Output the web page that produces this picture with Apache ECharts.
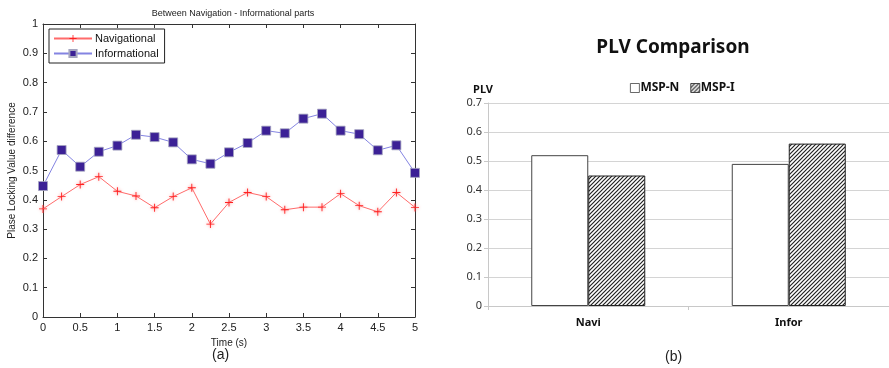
<!DOCTYPE html>
<html>
<head>
<meta charset="utf-8">
<script src="https://cdn.jsdelivr.net/npm/echarts@6/dist/echarts.min.js"></script>
<style>
  html, body { margin: 0; padding: 0; background: #fff; }
  #chart { width: 889px; height: 368px; }
</style>
</head>
<body>
<div id="chart"></div>
<script>
// (a) PLV difference over time, sampled every 0.25 s
const timeSec = [0, 0.25, 0.5, 0.75, 1, 1.25, 1.5, 1.75, 2, 2.25, 2.5, 2.75, 3, 3.25, 3.5, 3.75, 4, 4.25, 4.5, 4.75, 5];
const navigational = [0.369, 0.411, 0.452, 0.479, 0.429, 0.413, 0.373, 0.411, 0.441, 0.317, 0.391, 0.425, 0.411, 0.366, 0.375, 0.375, 0.421, 0.380, 0.359, 0.425, 0.374];
const informational = [0.447, 0.570, 0.513, 0.564, 0.585, 0.622, 0.614, 0.596, 0.538, 0.523, 0.562, 0.594, 0.636, 0.627, 0.677, 0.694, 0.636, 0.624, 0.569, 0.586, 0.492];

// (b) mean PLV per part
const parts = ['Navi', 'Infor'];
const mspN = [0.52, 0.49];
const mspI = [0.45, 0.56];

// diagonal hatch fill for the MSP-I bars
function hatch() {
  const c = document.createElement('canvas');
  c.width = 4; c.height = 4;
  const g = c.getContext('2d');
  g.fillStyle = '#fff';
  g.fillRect(0, 0, 4, 4);
  g.strokeStyle = '#222';
  g.lineWidth = 1.2;
  g.beginPath();
  g.moveTo(0, 4); g.lineTo(4, 0);
  g.moveTo(-1, 1); g.lineTo(1, -1);
  g.moveTo(3, 5); g.lineTo(5, 3);
  g.stroke();
  return { image: c, repeat: 'repeat' };
}

const matFont = 'Liberation Sans, Arial, sans-serif';
const xlFont = 'Noto Sans, Open Sans, sans-serif';
const plus = 'path://M4,0H5V9H4Z M0,4H9V5H0Z';

// box axes of the time plot: black line, short inward ticks
function boxAxis(extra) {
  return Object.assign({
    axisLine: { show: true, onZero: false, lineStyle: { color: '#333' } },
    axisTick: { show: true, inside: true, length: 4, lineStyle: { color: '#333' } },
    splitLine: { show: false }
  }, extra);
}

const chart = echarts.init(document.getElementById('chart'), null, { renderer: 'canvas' });

chart.setOption({
  animation: false,
  backgroundColor: '#fff',
  title: [
    {
      text: 'Between Navigation - Informational parts',
      left: 228, top: 4, textAlign: 'center',
      textStyle: { fontFamily: matFont, fontSize: 9, fontWeight: 'normal', color: '#222' }
    },
    {
      text: 'PLV Comparison',
      left: 668, top: 33, textAlign: 'center',
      textStyle: { fontFamily: xlFont, fontSize: 19, fontWeight: 'bold', color: '#111' }
    }
  ],
  legend: [
    {
      data: ['Navigational', 'Informational'],
      orient: 'vertical',
      left: 49, top: 29,
      padding: [4, 6, 4, 4],
      itemGap: 4,
      itemWidth: 38, itemHeight: 9,
      borderColor: '#222', borderWidth: 1,
      backgroundColor: '#fff',
      textStyle: { fontFamily: matFont, fontSize: 11, color: '#111', padding: [0, 0, 0, -2] }
    },
    {
      data: ['MSP-N', 'MSP-I'],
      left: 625, top: 77,
      itemGap: 11,
      icon: 'rect',
      itemWidth: 9, itemHeight: 9,
      itemStyle: { borderWidth: 0.8 },
      textStyle: { fontFamily: xlFont, fontSize: 12, fontWeight: 'bold', color: '#111', padding: [0, 0, 0, -4] }
    }
  ],
  grid: [
    { left: 43, top: 24, width: 372, height: 293, show: false },
    { left: 488, top: 103, width: 401, height: 203, show: false }
  ],
  xAxis: [
    boxAxis({
      gridIndex: 0, type: 'value', position: 'bottom', min: 0, max: 5, interval: 0.5,
      name: 'Time (s)', nameLocation: 'middle', nameGap: 19,
      nameTextStyle: { fontFamily: matFont, fontSize: 10, color: '#222' },
      axisLabel: { fontFamily: matFont, fontSize: 11, color: '#222', margin: 5 }
    }),
    boxAxis({
      gridIndex: 0, type: 'value', position: 'top', min: 0, max: 5, interval: 0.5,
      axisLabel: { show: false }
    }),
    {
      gridIndex: 1, type: 'category', data: parts,
      axisLine: { lineStyle: { color: '#c8c8c8' } },
      axisTick: { show: true, length: 4, lineStyle: { color: '#c8c8c8' } },
      axisLabel: { fontFamily: xlFont, fontSize: 11, fontWeight: 'bold', color: '#111', margin: 11 }
    }
  ],
  yAxis: [
    boxAxis({
      gridIndex: 0, type: 'value', position: 'left', min: 0, max: 1, interval: 0.1,
      name: 'Plase Locking Value difference', nameLocation: 'middle', nameGap: 26,
      nameTextStyle: { fontFamily: matFont, fontSize: 10, color: '#222' },
      axisLabel: { fontFamily: matFont, fontSize: 11, color: '#222', margin: 5 }
    }),
    boxAxis({
      gridIndex: 0, type: 'value', position: 'right', min: 0, max: 1, interval: 0.1,
      axisLabel: { show: false }
    }),
    {
      gridIndex: 1, type: 'value', min: 0, max: 0.7, interval: 0.1,
      name: 'PLV', nameGap: 8,
      nameTextStyle: { fontFamily: xlFont, fontSize: 11, fontWeight: 'bold', color: '#111', align: 'center', padding: [0, 0, 0, -10] },
      axisLine: { show: true, lineStyle: { color: '#c8c8c8' } },
      axisTick: { show: true, length: 4, lineStyle: { color: '#c8c8c8' } },
      axisLabel: { fontFamily: xlFont, fontSize: 11, color: '#333', margin: 6 },
      splitLine: { lineStyle: { color: '#d4d4d4', width: 1 } }
    }
  ],
  series: [
    {
      name: 'Navigational', type: 'line',
      xAxisIndex: 0, yAxisIndex: 0,
      data: timeSec.map((t, i) => [t, navigational[i]]),
      symbol: plus, symbolSize: 8, showAllSymbol: true,
      lineStyle: { color: '#ff6b6b', width: 1 },
      itemStyle: { color: '#ff2020', shadowColor: 'rgba(255,120,120,0.9)', shadowBlur: 3 }
    },
    {
      name: 'Informational', type: 'line',
      xAxisIndex: 0, yAxisIndex: 0,
      data: timeSec.map((t, i) => [t, informational[i]]),
      symbol: 'rect', symbolSize: 9, showAllSymbol: true,
      lineStyle: { color: '#8484e2', width: 1 },
      itemStyle: { color: '#3c2196', borderColor: '#a6a6c0', borderWidth: 0.8 }
    },
    {
      name: 'MSP-N', type: 'bar',
      xAxisIndex: 2, yAxisIndex: 2,
      data: mspN, barWidth: 57, barGap: '0%',
      itemStyle: { color: '#fff', borderColor: '#444', borderWidth: 1 }
    },
    {
      name: 'MSP-I', type: 'bar',
      xAxisIndex: 2, yAxisIndex: 2,
      data: mspI, barWidth: 57, barGap: '0%',
      itemStyle: { color: hatch(), borderColor: '#222', borderWidth: 1 }
    }
  ],
  graphic: [
    { type: 'text', left: 212, top: 348, style: { text: '(a)', font: '14px "Liberation Sans", Arial, sans-serif', fill: '#222' } },
    { type: 'text', left: 665, top: 350, style: { text: '(b)', font: '14px "Liberation Sans", Arial, sans-serif', fill: '#222' } }
  ]
});
</script>
</body>
</html>
